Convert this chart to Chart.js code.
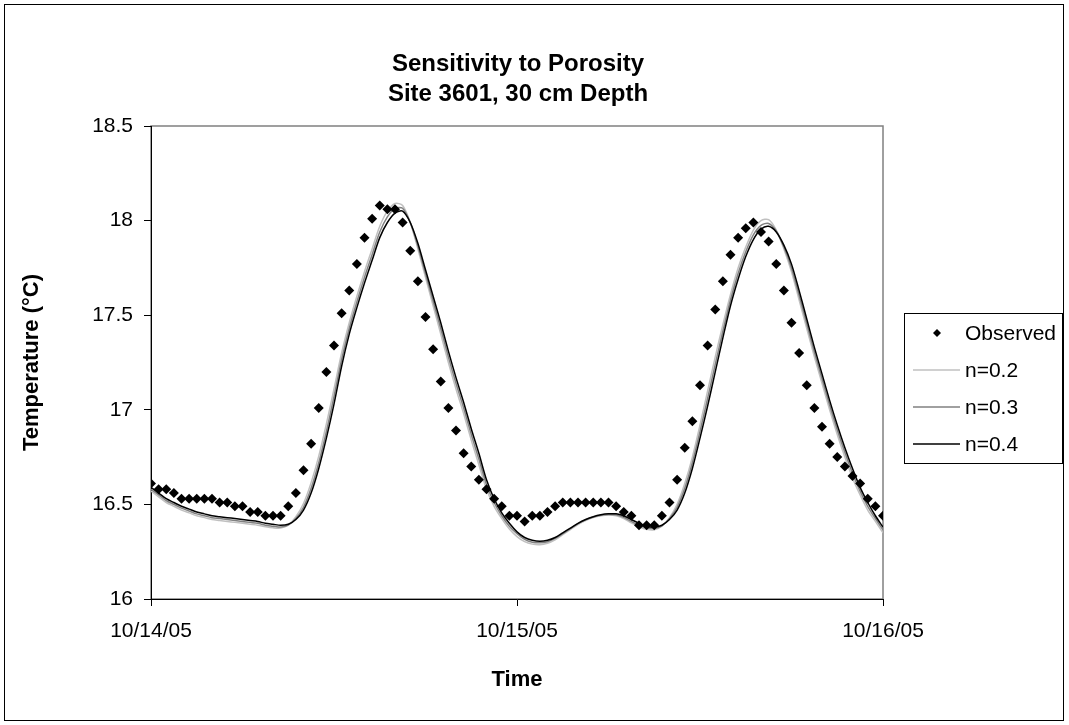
<!DOCTYPE html>
<html>
<head>
<meta charset="utf-8">
<title>Sensitivity to Porosity</title>
<script src="https://cdn.jsdelivr.net/npm/chart.js@4.4.1/dist/chart.umd.min.js"></script>
<style>
    body { margin: 0; background: #ffffff; }
    #wrap { width: 1069px; height: 725px; }
</style>
</head>
<body>
<div id="wrap"><canvas id="porosityChart" width="1069" height="725"></canvas></div>
<script>
// hours since 10/14/05 00:00, one reading every half hour
const heures = [
    0, 0.5, 1, 1.5, 2, 2.5, 3, 3.5, 4, 4.5, 5, 5.5, 6, 6.5, 7, 7.5, 8, 8.5, 9, 9.5,
    10, 10.5, 11, 11.5, 12, 12.5, 13, 13.5, 14, 14.5, 15, 15.5, 16, 16.5, 17, 17.5, 18, 18.5, 19, 19.5,
    20, 20.5, 21, 21.5, 22, 22.5, 23, 23.5, 24, 24.5, 25, 25.5, 26, 26.5, 27, 27.5, 28, 28.5, 29, 29.5,
    30, 30.5, 31, 31.5, 32, 32.5, 33, 33.5, 34, 34.5, 35, 35.5, 36, 36.5, 37, 37.5, 38, 38.5, 39, 39.5,
    40, 40.5, 41, 41.5, 42, 42.5, 43, 43.5, 44, 44.5, 45, 45.5, 46, 46.5, 47, 47.5, 48
];

const observe = [
    16.61, 16.58, 16.58, 16.56, 16.53, 16.53, 16.53, 16.53, 16.53, 16.51, 16.51, 16.49, 16.49, 16.46, 16.46, 16.44, 16.44, 16.44, 16.49, 16.56,
    16.68, 16.82, 17.01, 17.20, 17.34, 17.51, 17.63, 17.77, 17.91, 18.01, 18.08, 18.06, 18.06, 17.99, 17.84, 17.68, 17.49, 17.32, 17.15, 17.01,
    16.89, 16.77, 16.70, 16.63, 16.58, 16.53, 16.49, 16.44, 16.44, 16.41, 16.44, 16.44, 16.46, 16.49, 16.51, 16.51, 16.51, 16.51, 16.51, 16.51,
    16.51, 16.49, 16.46, 16.44, 16.39, 16.39, 16.39, 16.44, 16.51, 16.63, 16.80, 16.94, 17.13, 17.34, 17.53, 17.68, 17.82, 17.91, 17.96, 17.99,
    17.94, 17.89, 17.77, 17.63, 17.46, 17.30, 17.13, 17.01, 16.91, 16.82, 16.75, 16.70, 16.65, 16.61, 16.53, 16.49, 16.44
];

const modeleN02 = [
    16.57, 16.54, 16.51, 16.49, 16.47, 16.455, 16.44, 16.43, 16.42, 16.415, 16.41, 16.405, 16.40, 16.395, 16.39, 16.382, 16.376, 16.375, 16.39, 16.435,
    16.505, 16.615, 16.755, 16.925, 17.11, 17.30, 17.46, 17.60, 17.73, 17.85, 17.97, 18.05, 18.09, 18.08, 17.99, 17.85, 17.70, 17.55, 17.40, 17.25,
    17.11, 16.98, 16.84, 16.71, 16.58, 16.49, 16.425, 16.37, 16.33, 16.303, 16.29, 16.287, 16.295, 16.313, 16.34, 16.367, 16.393, 16.414, 16.43, 16.44,
    16.444, 16.44, 16.425, 16.402, 16.382, 16.368, 16.366, 16.385, 16.43, 16.50, 16.61, 16.75, 16.92, 17.10, 17.28, 17.45, 17.61, 17.75, 17.86, 17.95,
    18.00, 18.005, 17.95, 17.85, 17.73, 17.58, 17.43, 17.28, 17.14, 17.00, 16.87, 16.75, 16.64, 16.55, 16.47, 16.41, 16.35
];

const modeleN03 = [
    16.58, 16.55, 16.52, 16.50, 16.48, 16.465, 16.45, 16.44, 16.43, 16.425, 16.42, 16.415, 16.41, 16.405, 16.40, 16.39, 16.385, 16.38, 16.39, 16.425,
    16.485, 16.585, 16.72, 16.885, 17.07, 17.265, 17.43, 17.57, 17.70, 17.82, 17.94, 18.02, 18.065, 18.065, 17.99, 17.865, 17.72, 17.575, 17.43, 17.28,
    17.14, 17.01, 16.87, 16.74, 16.605, 16.51, 16.44, 16.385, 16.345, 16.315, 16.30, 16.297, 16.303, 16.32, 16.345, 16.372, 16.398, 16.418, 16.433, 16.443,
    16.447, 16.445, 16.432, 16.41, 16.39, 16.377, 16.373, 16.387, 16.425, 16.485, 16.585, 16.72, 16.885, 17.06, 17.24, 17.415, 17.58, 17.72, 17.835, 17.925,
    17.975, 17.985, 17.945, 17.86, 17.75, 17.605, 17.455, 17.305, 17.165, 17.025, 16.895, 16.775, 16.665, 16.57, 16.49, 16.425, 16.365
];

const modeleN04 = [
    16.59, 16.56, 16.53, 16.51, 16.49, 16.475, 16.46, 16.45, 16.44, 16.435, 16.43, 16.425, 16.42, 16.415, 16.41, 16.40, 16.395, 16.39, 16.395, 16.42,
    16.47, 16.56, 16.69, 16.85, 17.03, 17.23, 17.40, 17.54, 17.67, 17.79, 17.91, 17.99, 18.04, 18.05, 17.99, 17.88, 17.74, 17.60, 17.46, 17.31,
    17.17, 17.04, 16.90, 16.77, 16.63, 16.53, 16.455, 16.40, 16.355, 16.325, 16.31, 16.305, 16.31, 16.325, 16.35, 16.375, 16.40, 16.42, 16.435, 16.445,
    16.45, 16.45, 16.44, 16.42, 16.40, 16.385, 16.38, 16.39, 16.42, 16.47, 16.56, 16.69, 16.85, 17.02, 17.20, 17.38, 17.55, 17.69, 17.81, 17.90,
    17.955, 17.97, 17.94, 17.87, 17.77, 17.63, 17.48, 17.33, 17.19, 17.05, 16.92, 16.80, 16.69, 16.59, 16.51, 16.44, 16.38
];

// date labels shown at 0, 24 and 48 h
const datesAxe = ['10/14/05', '10/15/05', '10/16/05'];
const titreLignes = ['Sensitivity to Porosity', 'Site 3601, 30 cm Depth'];
const nomsSeries = ['Observed', 'n=0.2', 'n=0.3', 'n=0.4'];
const couleursSeries = ['#000000', '#c0c0c0', '#808080', '#000000'];

const POLICE = '"Liberation Sans", Arial, sans-serif';

function points(valeurs) {
    return valeurs.map((v, i) => ({ x: heures[i], y: v }));
}

// frame around the whole figure + grey border of the plot area
const cadrePlugin = {
    id: 'cadre',
    beforeDraw(chart) {
        const ctx = chart.ctx;
        const a = chart.chartArea;
        ctx.save();
        ctx.fillStyle = '#ffffff';
        ctx.fillRect(0, 0, chart.width, chart.height);
        ctx.strokeStyle = '#000000';
        ctx.lineWidth = 1;
        ctx.strokeRect(4.5, 4.5, 1059, 716);
        ctx.strokeStyle = '#808080';
        ctx.lineWidth = 1.5;
        ctx.strokeRect(a.left, a.top, a.right - a.left, a.bottom - a.top);
        ctx.restore();
    }
};

// two-line title centred over the plot area
const titrePlugin = {
    id: 'titre',
    afterDraw(chart) {
        const ctx = chart.ctx;
        const a = chart.chartArea;
        const cx = (a.left + a.right) / 2;
        ctx.save();
        ctx.font = 'bold 24px ' + POLICE;
        ctx.fillStyle = '#000000';
        ctx.textAlign = 'center';
        ctx.textBaseline = 'middle';
        titreLignes.forEach((ligne, i) => {
            ctx.fillText(ligne, cx + 1, 64 + i * 30);
        });
        ctx.restore();
    }
};

// legend box on the right
const legendePlugin = {
    id: 'legendeBoite',
    afterDraw(chart) {
        const ctx = chart.ctx;
        const x0 = 904, y0 = 313, w = 158, h = 150;
        const pas = 37;
        ctx.save();
        ctx.fillStyle = '#ffffff';
        ctx.fillRect(x0, y0, w, h);
        ctx.strokeStyle = '#000000';
        ctx.lineWidth = 1;
        ctx.strokeRect(x0 + 0.5, y0 + 0.5, w, h);
        ctx.font = '21px ' + POLICE;
        ctx.textBaseline = 'middle';
        nomsSeries.forEach((nom, i) => {
            const y = y0 + 20 + i * pas;
            if (i === 0) {
                ctx.fillStyle = couleursSeries[0];
                ctx.beginPath();
                ctx.moveTo(937, y - 4);
                ctx.lineTo(941, y);
                ctx.lineTo(937, y + 4);
                ctx.lineTo(933, y);
                ctx.closePath();
                ctx.fill();
            } else {
                ctx.strokeStyle = couleursSeries[i];
                ctx.lineWidth = 1.5;
                ctx.beginPath();
                ctx.moveTo(913, y);
                ctx.lineTo(960, y);
                ctx.stroke();
            }
            ctx.fillStyle = '#000000';
            ctx.fillText(nom, 965, y + 1);
        });
        ctx.restore();
    }
};

Chart.defaults.font.family = POLICE;
Chart.defaults.color = '#000000';

const ctx = document.getElementById('porosityChart').getContext('2d');
new Chart(ctx, {
    type: 'scatter',
    data: {
        datasets: [
            {
                label: nomsSeries[0],
                data: points(observe),
                pointStyle: 'rectRot',
                pointRadius: 5,
                backgroundColor: '#000000',
                borderColor: '#000000',
                borderWidth: 0,
                showLine: false,
                order: 0
            },
            {
                label: nomsSeries[3],
                data: points(modeleN04),
                showLine: true,
                borderColor: couleursSeries[3],
                borderWidth: 1.5,
                pointRadius: 0,
                tension: 0.3,
                order: 1
            },
            {
                label: nomsSeries[2],
                data: points(modeleN03),
                showLine: true,
                borderColor: couleursSeries[2],
                borderWidth: 1.5,
                pointRadius: 0,
                tension: 0.3,
                order: 2
            },
            {
                label: nomsSeries[1],
                data: points(modeleN02),
                showLine: true,
                borderColor: couleursSeries[1],
                borderWidth: 1.5,
                pointRadius: 0,
                tension: 0.3,
                order: 3
            }
        ]
    },
    options: {
        responsive: false,
        animation: false,
        devicePixelRatio: 1,
        layout: {
            padding: { left: 0, top: 126, right: 186, bottom: 0 }
        },
        plugins: {
            legend: { display: false },
            tooltip: { enabled: false },
            title: { display: false }
        },
        scales: {
            x: {
                type: 'linear',
                min: 0,
                max: 48,
                afterFit: function (scale) { scale.height = 126; },
                afterBuildTicks: function (scale) {
                    scale.ticks = [{ value: 0 }, { value: 24 }, { value: 48 }];
                },
                ticks: {
                    font: { size: 21 },
                    padding: 13,
                    maxRotation: 0,
                    callback: function (value) { return datesAxe[value / 24]; }
                },
                grid: { drawOnChartArea: false, drawTicks: true, tickLength: 7, color: '#000000' },
                border: { display: true, color: '#000000', width: 1 },
                title: {
                    display: true,
                    text: 'Time',
                    font: { size: 22, weight: 'bold' },
                    padding: { top: 0, bottom: 32 }
                }
            },
            y: {
                min: 16,
                max: 18.5,
                afterFit: function (scale) { scale.width = 151; },
                ticks: {
                    stepSize: 0.5,
                    font: { size: 21 },
                    padding: 11,
                    callback: function (value) { return String(value); }
                },
                grid: { drawOnChartArea: false, drawTicks: true, tickLength: 7, color: '#000000' },
                border: { display: true, color: '#000000', width: 1 },
                title: {
                    display: true,
                    text: 'Temperature (°C)',
                    font: { size: 22, weight: 'bold' },
                    padding: { top: 19, bottom: 0 }
                }
            }
        }
    },
    plugins: [cadrePlugin, titrePlugin, legendePlugin]
});
</script>
</body>
</html>
